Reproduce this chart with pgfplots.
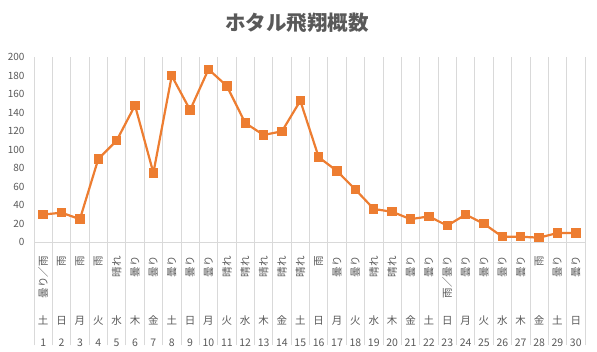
\documentclass[border=0pt]{standalone}
\usepackage{fontspec}
\setmainfont{Noto Sans CJK JP}
\usepackage{graphicx}
\usepackage{pgfplots}
\pgfplotsset{compat=1.18}
\definecolor{txtgray}{HTML}{595959}
\definecolor{gridgray}{HTML}{D9D9D9}
\definecolor{lineorange}{HTML}{ED7D31}
\newcommand\lab[3]{\vbox{\offinterlineskip\hsize=18pt
 \vbox to 54pt{\hbox to 18pt{\hss\rotatebox{90}{#1}\hss}\vss}%
 \vbox to 20pt{\vss\hbox to 18pt{\hss#2\hss}\vss}%
 \vbox to 24pt{\vss\hbox to 18pt{\hss#3\hss}\vss}}}
\begin{document}
\begin{tikzpicture}
\useasboundingbox (0,0) rectangle (597pt,352pt);
\node[font=\fontsize{20.5}{24}\selectfont\bfseries, text=txtgray] at (297pt,329.5pt) {ホタル飛翔概数};
\begin{axis}[
  at={(34pt,109.7pt)}, anchor=south west,
  scale only axis, width=551pt, height=185pt,
  xmin=0.5, xmax=30.5, ymin=0, ymax=200,
  axis x line*=bottom, axis y line*=left,
  x axis line style={-, draw=gridgray, line width=0.8pt},
  y axis line style={draw=none},
  xtick={1,...,30},
  xticklabels={
   {\lab{曇り／雨}{土}{1}},{\lab{雨}{日}{2}},{\lab{雨}{月}{3}},{\lab{雨}{火}{4}},{\lab{晴れ}{水}{5}},
   {\lab{曇り}{木}{6}},{\lab{曇り}{金}{7}},{\lab{曇り}{土}{8}},{\lab{曇り}{日}{9}},{\lab{曇り}{月}{10}},
   {\lab{晴れ}{火}{11}},{\lab{晴れ}{水}{12}},{\lab{晴れ}{木}{13}},{\lab{晴れ}{金}{14}},{\lab{晴れ}{土}{15}},
   {\lab{雨}{日}{16}},{\lab{曇り}{月}{17}},{\lab{曇り}{火}{18}},{\lab{晴れ}{水}{19}},{\lab{晴れ}{木}{20}},
   {\lab{曇り}{金}{21}},{\lab{曇り}{土}{22}},{\lab{雨／曇り}{日}{23}},{\lab{曇り}{月}{24}},{\lab{曇り}{火}{25}},
   {\lab{曇り}{水}{26}},{\lab{曇り}{木}{27}},{\lab{雨}{金}{28}},{\lab{曇り}{土}{29}},{\lab{曇り}{日}{30}}},
  major x tick style={draw=none},
  minor xtick={0.5,1.5,...,30.5},
  minor x tick style={draw=gridgray, line width=0.8pt},
  minor tick length=103pt,
  xtick align=outside,
  xminorgrids=true, minor x grid style={gridgray, line width=0.8pt},
  xticklabel style={anchor=north, inner sep=0pt, yshift=-9.7pt, font=\fontsize{10.5}{12}\selectfont, text=txtgray},
  ytick={0,20,...,200}, ytick style={draw=none},
  yticklabel style={font=\fontsize{10}{12}\selectfont, text=txtgray, xshift=-6pt},
  /pgf/number format/assume math mode=true,
  clip=false,
]
\addplot[lineorange, line width=2.2pt, mark=square*, mark size=4.2pt,
  mark options={solid, fill=lineorange, draw=lineorange, line width=0pt}]
  coordinates {(1,30)(2,32)(3,25)(4,90)(5,110)(6,148)(7,75)(8,180)(9,143)(10,187)
  (11,169)(12,129)(13,116)(14,120)(15,153)(16,92)(17,77)(18,57)(19,36)(20,33)
  (21,25)(22,28)(23,18)(24,30)(25,20)(26,6)(27,6)(28,5)(29,10)(30,10)};
\end{axis}
\end{tikzpicture}
\end{document}
